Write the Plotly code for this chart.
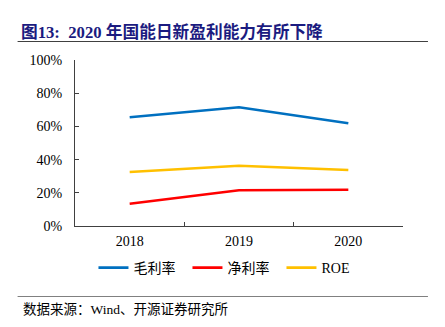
import plotly.graph_objects as go

# Data
years = ["2018", "2019", "2020"]
gross_margin = [65.5, 71.5, 61.9]   # 毛利率 (%)
net_margin = [13.4, 21.5, 21.8]     # 净利率 (%)
roe = [32.5, 36.3, 33.7]            # ROE (%)
series_names = ["毛利率", "净利率", "ROE"]
series_colors = ["#0070C0", "#FF0000", "#FFC000"]
y_ticks = [0, 20, 40, 60, 80, 100]
y_tick_labels = [f"{v}%" for v in y_ticks]
title_text = "图13:  2020 年国能日新盈利能力有所下降"
source_text = "数据来源：Wind、开源证券研究所"

FIG_W, FIG_H = 445, 327
L, R, T, B = 74.5, 42, 60, 101
PW, PH = FIG_W - L - R, FIG_H - T - B

SERIF = "Liberation Serif, Times New Roman, Noto Sans CJK SC, serif"


def px(x):
    return (x - L) / PW


def py(y):
    return (FIG_H - B - y) / PH


fig = go.Figure()
for name, vals, color in zip(series_names, [gross_margin, net_margin, roe], series_colors):
    fig.add_trace(go.Scatter(
        x=years, y=vals, name=name, mode="lines",
        line=dict(color=color, width=2.6),
        hoverinfo="skip",
    ))

fig.update_layout(
    width=FIG_W, height=FIG_H,
    margin=dict(l=L, r=R, t=T, b=B, pad=0),
    paper_bgcolor="white", plot_bgcolor="white",
    font=dict(family=SERIF, size=14, color="black"),
    showlegend=True,
    legend=dict(
        orientation="h", x=px(93), xanchor="left",
        y=py(268), yanchor="middle",
        font=dict(family=SERIF, size=14, color="black"),
        itemwidth=30, tracegroupgap=0,
        entrywidth=49, entrywidthmode="pixels",
        bgcolor="rgba(0,0,0,0)",
    ),
    xaxis=dict(
        type="category", range=[-0.5, 2.5],
        showline=True, linecolor="#404040", linewidth=1,
        ticks="inside", ticklen=4, tickcolor="#404040", tickson="boundaries",
        showgrid=False, zeroline=False,
        tickfont=dict(family=SERIF, size=14, color="black"),
        ticklabelstandoff=2,
        fixedrange=True,
    ),
    yaxis=dict(
        range=[0, 100], tickmode="array", tickvals=y_ticks, ticktext=y_tick_labels,
        showline=True, linecolor="#404040", linewidth=1,
        ticks="inside", ticklen=4, tickcolor="#404040",
        showgrid=False, zeroline=False,
        tickfont=dict(family=SERIF, size=14, color="black"),
        ticklabelstandoff=9,
        fixedrange=True,
    ),
)

# Title and divider rules
fig.add_annotation(
    xref="paper", yref="paper", x=px(18), y=py(32),
    xanchor="left", yanchor="middle", showarrow=False,
    text="<b>" + title_text + "</b>",
    font=dict(family=SERIF, size=16.7, color="#1B1B80"),
)
fig.add_shape(type="line", xref="paper", yref="paper",
              x0=px(17), x1=px(428), y0=py(41.5), y1=py(41.5),
              line=dict(color="#404040", width=1.2))
fig.add_shape(type="line", xref="paper", yref="paper",
              x0=px(17), x1=px(428), y0=py(296.5), y1=py(296.5),
              line=dict(color="#808080", width=1))
fig.add_annotation(
    xref="paper", yref="paper", x=px(20), y=py(309),
    xanchor="left", yanchor="middle", showarrow=False,
    text=source_text,
    font=dict(family=SERIF, size=13.5, color="black"),
)

fig.write_html("out.html")
